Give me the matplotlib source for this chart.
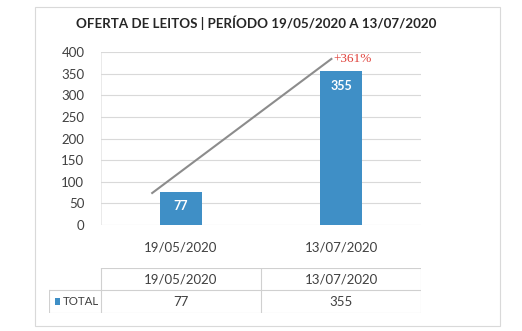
import matplotlib.pyplot as plt
from matplotlib.patches import Rectangle

# Data
dates = ['19/05/2020', '13/07/2020']
leitos = [77, 355]
series_name = 'TOTAL'
yticks = [0, 50, 100, 150, 200, 250, 300, 350, 400]

bar_color = '#3f8fc6'
text_color = '#404040'
grid_color = '#d9d9d9'
font = 'Lato'

growth = (leitos[1] - leitos[0]) / leitos[0] * 100

fig = plt.figure(figsize=(5.22, 3.31), dpi=100)
fig.patch.set_facecolor('white')

# outer chart frame
fig.patches.append(Rectangle((0.067, 0.015), 0.891, 0.964, transform=fig.transFigure,
                             fill=False, edgecolor='#d9d9d9', lw=0.8))

fig.text(0.49, 0.93, 'OFERTA DE LEITOS | PERÍODO 19/05/2020 A 13/07/2020',
         ha='center', va='center', fontsize=9.6, fontweight='bold',
         color='#262626', family=font)

# bar chart
ax = fig.add_axes([0.1935, 0.3202, 0.613, 0.5227])
x = range(len(dates))
bars = ax.bar(x, leitos, width=0.26, color=bar_color, zorder=3)
ax.set_xlim(-0.5, 1.5)
ax.set_ylim(0, 400)
ax.set_yticks(yticks)
ax.set_xticks(list(x))
ax.set_xticklabels(dates)
ax.tick_params(length=0, colors=text_color, labelsize=9.5)
ax.tick_params(axis='x', pad=12)
ax.tick_params(axis='y', pad=12)
for lab in ax.get_xticklabels() + ax.get_yticklabels():
    lab.set_family(font)
ax.grid(axis='y', color=grid_color, lw=0.8, zorder=0)
for s in ax.spines.values():
    s.set_visible(False)
ax.axvline(-0.5, color='#e6e6e6', lw=0.6, zorder=1)

for b, v in zip(bars, leitos):
    ax.text(b.get_x() + b.get_width() / 2, v - 34, str(v), ha='center', va='center',
            color='white', fontsize=9, fontweight='bold', family=font, zorder=4)

# growth trend line with percentage
x0, y0 = -0.18, leitos[0] - 3
x1, y1 = 0.94, leitos[1] + 29
ax.plot([x0, x1], [y0, y1], color='#8c8c8c', lw=1.5, zorder=5, clip_on=False)
ax.text(x1 + 0.015, y1, f'+{growth:.0f}%', color='#e0403a', fontsize=9.5,
        family='Liberation Serif', ha='left', va='center')

# data table under the chart
tx = fig.add_axes([0.0939, 0.0544, 0.7126, 0.1360])
tx.set_xlim(-0.825, 1.5)
tx.set_ylim(0, 2)
tx.axis('off')
line_kw = dict(color='#d0d0d0', lw=0.8)
tx.plot([-0.5, 1.5], [2, 2], **line_kw)
tx.plot([-0.825, 1.5], [1, 1], **line_kw)
tx.plot([-0.825, 1.5], [0, 0], **line_kw)
tx.plot([-0.825, -0.825], [0, 1], **line_kw)
for xv in [-0.5, 0.5, 1.5]:
    tx.plot([xv, xv], [0, 2], **line_kw)
for i, (d, v) in enumerate(zip(dates, leitos)):
    tx.text(i, 1.5, d, ha='center', va='center', fontsize=9.5, color=text_color, family=font)
    tx.text(i, 0.5, str(v), ha='center', va='center', fontsize=9.5, color=text_color, family=font)
tx.add_patch(Rectangle((-0.79, 0.35), 0.035, 0.3, color=bar_color, lw=0))
tx.text(-0.74, 0.5, series_name, ha='left', va='center', fontsize=8.3,
        color=text_color, family=font)

fig.savefig('out.png', dpi=100, facecolor='white')
